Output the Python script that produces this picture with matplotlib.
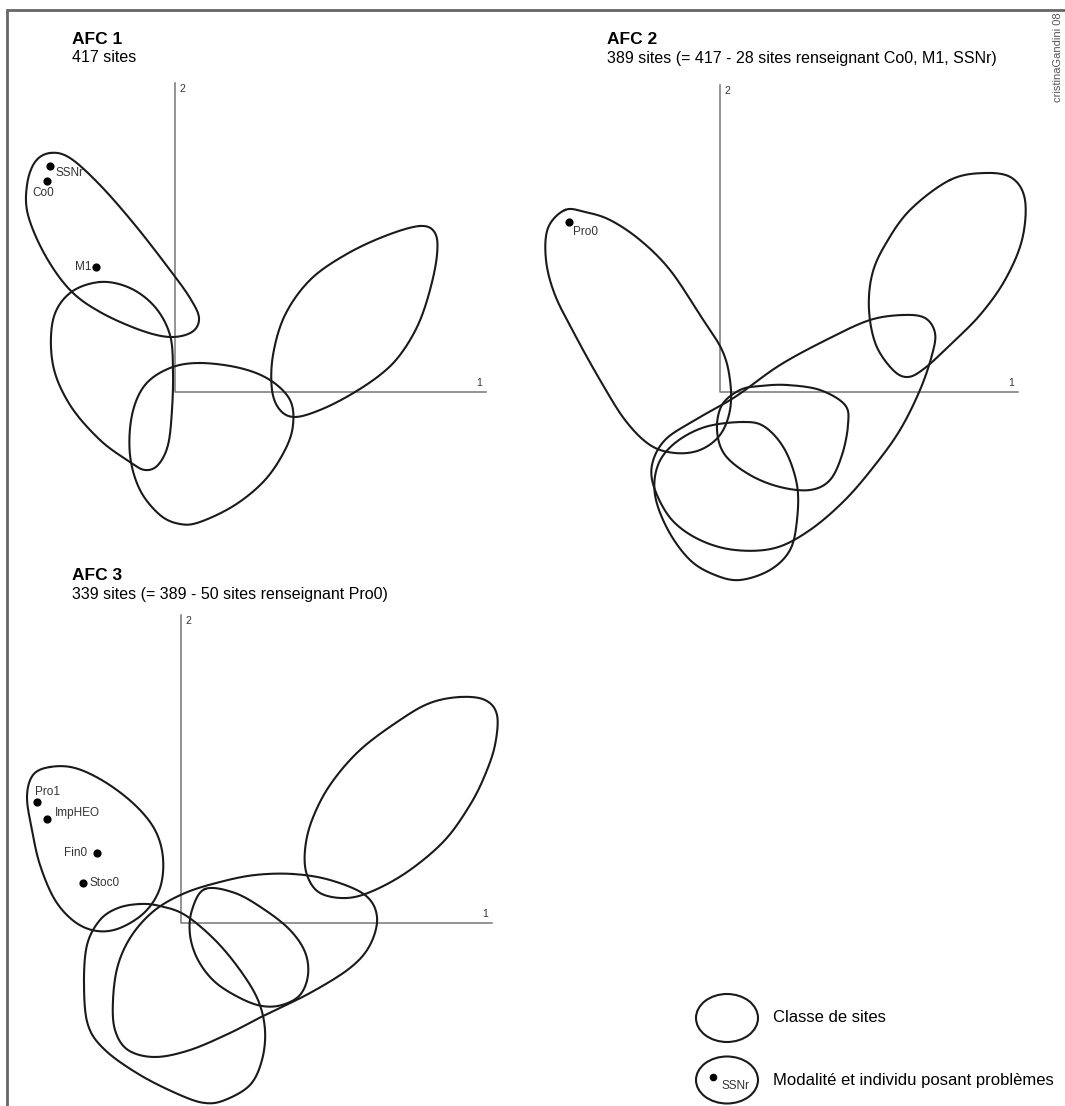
import numpy as np
import matplotlib
matplotlib.use("Agg")
import matplotlib.pyplot as plt

plt.rcParams['font.family'] = ['Liberation Sans', 'DejaVu Sans']

# ---- contours des classes (points de contrôle, coordonnées image) ----
# AFC 1
afc1_classe_a = [(50, 153), (70, 158), (100, 185), (135, 225), (170, 270), (190, 298), (199, 318),
                 (192, 332), (170, 337), (140, 330), (100, 312), (70, 290), (45, 255), (28, 215),
                 (27, 185), (35, 162)]
afc1_classe_b = [(100, 282), (130, 288), (155, 307), (170, 335), (173, 370), (172, 410), (168, 445),
                 (158, 465), (145, 470), (130, 462), (100, 440), (70, 405), (53, 365), (53, 320), (70, 293)]
afc1_classe_c = [(200, 363), (240, 368), (270, 380), (290, 400), (293, 425), (285, 450), (265, 480),
                 (235, 505), (200, 522), (180, 524), (160, 515), (140, 490), (130, 455), (132, 415),
                 (145, 385), (170, 368)]
afc1_classe_d = [(420, 226), (435, 233), (437, 255), (430, 290), (418, 325), (400, 355), (380, 375),
                 (350, 395), (320, 410), (295, 417), (280, 410), (272, 390), (273, 355), (285, 315),
                 (310, 280), (345, 255), (385, 236)]
# AFC 2
afc2_classe_a = [(565, 210), (585, 212), (610, 220), (640, 240), (670, 270), (700, 315), (722, 350),
                 (730, 380), (730, 410), (720, 435), (700, 450), (675, 453), (650, 445), (625, 420),
                 (600, 380), (575, 335), (555, 295), (546, 260), (548, 228)]
afc2_classe_b = [(950, 180), (985, 173), (1012, 178), (1025, 200), (1022, 240), (1005, 280), (980, 315),
                 (950, 345), (925, 368), (908, 377), (893, 370), (876, 345), (869, 310), (872, 275),
                 (885, 245), (910, 210)]
afc2_classe_c = [(903, 315), (925, 318), (935, 333), (932, 355), (920, 390), (900, 430), (875, 465),
                 (845, 500), (810, 530), (775, 548), (735, 550), (700, 540), (672, 520), (655, 490),
                 (652, 465), (665, 440), (695, 420), (735, 397), (780, 365), (830, 338), (870, 320)]
afc2_classe_d = [(787, 385), (820, 390), (845, 405), (848, 425), (842, 455), (830, 480), (810, 490),
                 (780, 487), (750, 475), (725, 455), (717, 430), (722, 405), (740, 390), (760, 386)]
afc2_classe_e = [(743, 422), (765, 427), (785, 450), (797, 485), (797, 520), (790, 550), (770, 570),
                 (740, 580), (715, 575), (690, 560), (668, 530), (655, 495), (658, 465), (675, 443), (705, 427)]
# AFC 3
afc3_classe_a = [(50, 767), (75, 768), (105, 782), (135, 805), (155, 830), (163, 858), (160, 888),
                 (145, 912), (120, 928), (97, 931), (75, 922), (55, 900), (40, 865), (32, 830),
                 (27, 797), (33, 775)]
afc3_classe_b = [(460, 697), (485, 700), (497, 715), (495, 745), (485, 775), (470, 805), (445, 840),
                 (410, 870), (375, 890), (347, 898), (320, 893), (307, 875), (305, 850), (312, 820),
                 (330, 785), (360, 750), (400, 720), (430, 703)]
afc3_classe_c = [(293, 874), (330, 880), (365, 895), (377, 917), (370, 945), (350, 968), (310, 993),
                 (265, 1015), (230, 1033), (190, 1050), (155, 1057), (128, 1050), (115, 1030),
                 (113, 1000), (118, 965), (132, 935), (155, 910), (185, 893), (220, 882), (255, 875)]
afc3_classe_d = [(205, 889), (235, 893), (265, 910), (290, 930), (305, 952), (308, 975), (300, 995),
                 (282, 1005), (262, 1006), (240, 998), (215, 982), (198, 960), (190, 935), (192, 910)]
afc3_classe_e = [(140, 904), (160, 906), (185, 915), (215, 940), (240, 970), (258, 1000), (265, 1030),
                 (262, 1060), (250, 1085), (225, 1100), (205, 1103), (180, 1095), (140, 1075),
                 (105, 1050), (88, 1025), (84, 985), (87, 945), (100, 920), (118, 908)]

classes = [afc1_classe_a, afc1_classe_b, afc1_classe_c, afc1_classe_d,
           afc2_classe_a, afc2_classe_b, afc2_classe_c, afc2_classe_d, afc2_classe_e,
           afc3_classe_a, afc3_classe_b, afc3_classe_c, afc3_classe_d, afc3_classe_e]

# ---- modalités posant problèmes ----
modalites_noms = ['SSNr', 'Co0', 'M1', 'Pro0', 'Pro1', 'ImpHEO', 'Fin0', 'Stoc0']
modalites_x = [50, 47, 96, 569, 37, 47, 97, 83]
modalites_y = [166, 181, 267, 222, 802, 819, 853, 883]

# ---- axes factoriels: origine, fin axe 1, haut axe 2 ----
axes_origine = [(175, 392), (720, 392), (181, 923)]
axes_fin1 = [486, 1018, 492]
axes_haut2 = [83, 85, 615]

titres = ['AFC 1', 'AFC 2', 'AFC 3']
sous_titres = ['417 sites',
               '389 sites (= 417 - 28 sites renseignant Co0, M1, SSNr)',
               '339 sites (= 389 - 50 sites renseignant Pro0)']
titres_pos = [(72, 40), (607, 40), (72, 576)]


def contour_ferme(points, n=30):
    """Catmull-Rom fermé sur les points de contrôle"""
    p = np.array(points, dtype=float)
    k = len(p)
    out = []
    for i in range(k):
        p0, p1, p2, p3 = p[i - 1], p[i], p[(i + 1) % k], p[(i + 2) % k]
        t = np.linspace(0, 1, n, endpoint=False)[:, None]
        seg = 0.5 * ((2 * p1) + (-p0 + p2) * t + (2 * p0 - 5 * p1 + 4 * p2 - p3) * t ** 2
                     + (-p0 + 3 * p1 - 3 * p2 + p3) * t ** 3)
        out.append(seg)
    out = np.vstack(out)
    return np.vstack([out, out[:1]])


W, H = 1065, 1106
fig = plt.figure(figsize=(W / 100, H / 100), dpi=100)
ax = fig.add_axes([0, 0, 1, 1])
ax.set_xlim(0, W)
ax.set_ylim(H, 0)
ax.axis('off')

# cadre (haut et gauche)
ax.plot([7, 7, W], [H, 10, 10], color='#666666', lw=2, solid_joinstyle='miter')

# axes factoriels
for (ox, oy), x1, y2 in zip(axes_origine, axes_fin1, axes_haut2):
    ax.plot([ox, ox, x1], [y2, oy, oy], color='#777777', lw=1.1)
    ax.text(ox + 4, y2 + 1, '2', fontsize=7.5, color='#333333', ha='left', va='top')
    ax.text(x1 - 7, oy - 4, '1', fontsize=7.5, color='#333333', ha='center', va='bottom')

# classes de sites
for c in classes:
    xy = contour_ferme(c)
    ax.plot(xy[:, 0], xy[:, 1], color='#1a1a1a', lw=1.5)

# modalités
ax.scatter(modalites_x, modalites_y, s=24, color='black', zorder=3)
decalages = {'SSNr': (5, 7, 'left'), 'Co0': (-4, 12, 'center'), 'M1': (-5, 0, 'right'),
             'Pro0': (4, 10, 'left'), 'Pro1': (-2, -10, 'left'), 'ImpHEO': (8, -6, 'left'),
             'Fin0': (-10, 0, 'right'), 'Stoc0': (7, 0, 'left')}
for nom, x, y in zip(modalites_noms, modalites_x, modalites_y):
    dx, dy, ha = decalages[nom]
    ax.text(x + dx, y + dy, nom, fontsize=8.5, color='#333333', ha=ha, va='center')

# titres
for (tx, ty), t, st in zip(titres_pos, titres, sous_titres):
    ax.text(tx, ty, t, fontsize=12.5, fontweight='bold', ha='left', va='center')
    ax.text(tx, ty + 18, st, fontsize=11.5, ha='left', va='center')

# légende
ax.add_patch(matplotlib.patches.Ellipse((727, 1018), 62, 48, fill=False, ec='#1a1a1a', lw=1.5))
ax.text(773, 1018, 'Classe de sites', fontsize=12, ha='left', va='center')
ax.add_patch(matplotlib.patches.Ellipse((727, 1080), 62, 47, fill=False, ec='#1a1a1a', lw=1.5))
ax.scatter([713], [1077], s=20, color='black')
ax.text(736, 1086, 'SSNr', fontsize=8.5, color='#333333', ha='center', va='center')
ax.text(773, 1080, 'Modalité et individu posant problèmes', fontsize=12, ha='left', va='center')

# signature
ax.text(1058, 12, 'cristinaGandini 08', fontsize=8, color='#555555', rotation=90,
        ha='center', va='top')

fig.savefig('out.png', dpi=100)
